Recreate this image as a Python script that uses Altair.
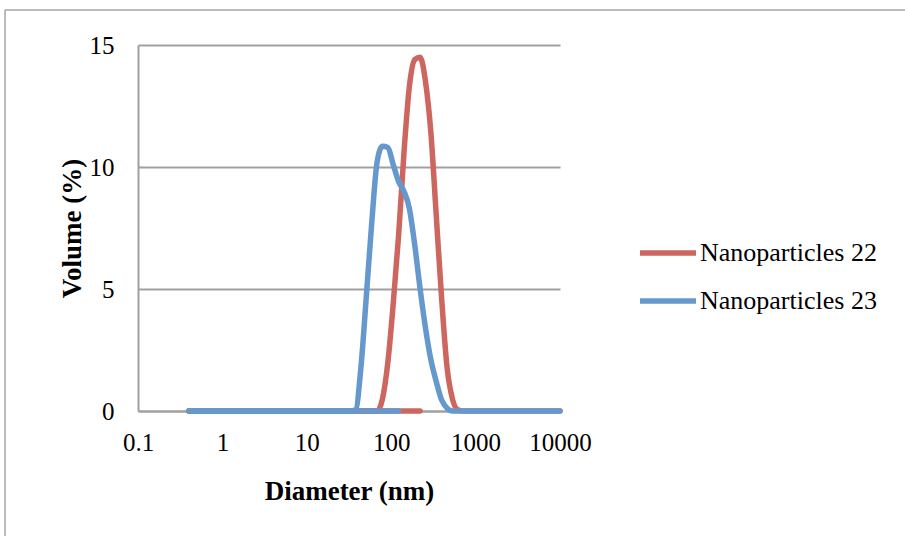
import altair as alt
import pandas as pd

diameters = [0.4, 0.4632, 0.5365, 0.6213, 0.7195, 0.8332, 0.9649, 1.117, 1.294, 1.499,
             1.736, 2.01, 2.328, 2.696, 3.122, 3.615, 4.187, 4.849, 5.615, 6.503,
             7.531, 8.721, 10.1, 11.7, 13.54, 15.69, 18.17, 21.04, 24.36, 28.21,
             32.67, 37.84, 43.82, 50.75, 58.77, 68.06, 78.82, 91.28, 105.7, 122.4,
             141.8, 164.2, 190.1, 220.2, 255.0, 295.3, 342.0, 396.1, 458.7, 531.2,
             615.1, 712.4, 825.0, 955.4, 1106, 1281, 1484, 1718, 1990, 2305,
             2669, 3091, 3580, 4145, 4801, 5560, 6439, 7456, 8635, 10000]

np22 = [0, 0, 0, 0, 0, 0, 0, 0, 0, 0,
        0, 0, 0, 0, 0, 0, 0, 0, 0, 0,
        0, 0, 0, 0, 0, 0, 0, 0, 0, 0,
        0, 0, 0, 0, 0, 0, 0.5, 2.0, 4.4, 7.2,
        10.6, 13.3, 14.4, 14.5, 13.5, 11.4, 8.0, 4.6, 1.8, 0.5,
        0.05, 0, 0, 0, 0, 0, 0, 0, 0, 0,
        0, 0, 0, 0, 0, 0, 0, 0, 0, 0]

np23 = [0, 0, 0, 0, 0, 0, 0, 0, 0, 0,
        0, 0, 0, 0, 0, 0, 0, 0, 0, 0,
        0, 0, 0, 0, 0, 0, 0, 0, 0, 0,
        0, 0.05, 1.8, 4.7, 7.7, 10.2, 10.85, 10.8, 10.1, 9.4,
        9.0, 8.3, 6.8, 5.0, 3.4, 2.1, 1.2, 0.45, 0.12, 0,
        0, 0, 0, 0, 0, 0, 0, 0, 0, 0,
        0, 0, 0, 0, 0, 0, 0, 0, 0, 0]

series_names = ["Nanoparticles 22", "Nanoparticles 23"]
series_colors = ["#CD665F", "#6598CC"]
# extra zero-valued baseline run present in each series (end diameter, nm)
baseline_end = [220.2, 122.4]

x_ticks = [0.1, 1, 10, 100, 1000, 10000]
y_ticks = [0, 5, 10, 15]

rows = []
for name, vals, bend in zip(series_names, [np22, np23], baseline_end):
    for d, v in zip(diameters, vals):
        rows.append({"d": d, "v": v, "series": name, "seg": "main"})
    for d in diameters:
        if d <= bend:
            rows.append({"d": d, "v": 0, "series": name, "seg": "base"})
df = pd.DataFrame(rows)

FONT = "Liberation Serif"

x_enc = alt.X("d:Q", scale=alt.Scale(type="log", domain=[0.1, 10000]),
              axis=alt.Axis(values=x_ticks, format="~g", grid=False, ticks=False,
                            labelFontSize=25, labelPadding=19, labelFont=FONT,
                            labelColor="black", domainColor="#A0A0A0", domainWidth=2,
                            title="Diameter (nm)", titleFont=FONT, titleFontSize=27,
                            titleFontWeight="bold", titleColor="black",
                            titleBaseline="alphabetic", titleY=88, labelFlush=False))
y_enc = alt.Y("v:Q", scale=alt.Scale(domain=[0, 15]),
              axis=alt.Axis(values=y_ticks, grid=True, gridColor="#A0A0A0", gridWidth=2,
                            ticks=False, labelFontSize=25, labelPadding=24, labelFont=FONT,
                            labelColor="black", domainColor="#A0A0A0", domainWidth=2,
                            title="Volume (%)", titleFont=FONT, titleFontSize=27,
                            titleFontWeight="bold", titleColor="black",
                            titleBaseline="alphabetic", titleX=-58, titleAngle=-90))

color_enc = alt.Color("series:N",
                      scale=alt.Scale(domain=series_names, range=series_colors),
                      legend=alt.Legend(title=None, orient="none", legendX=499, legendY=177,
                                        symbolType="stroke", symbolSize=3136,
                                        symbolStrokeWidth=5.5, labelFontSize=26,
                                        labelFont=FONT, labelColor="black", labelLimit=0,
                                        labelOffset=1, rowPadding=4))

layers = []
for name in series_names:
    layers.append(
        alt.Chart(df[df["series"] == name]).mark_line(
            interpolate="monotone", strokeWidth=5.5, strokeCap="round", strokeJoin="round"
        ).encode(x=x_enc, y=y_enc, color=color_enc, detail="seg:N", order="d:Q")
    )

frame_df = pd.DataFrame({"a": [0]})
frame_top = alt.Chart(frame_df).mark_rule(color="#A6A6A6", strokeWidth=1.5, clip=False).encode(
    x=alt.value(-133), x2=alt.value(790), y=alt.value(-35))
frame_left = alt.Chart(frame_df).mark_rule(color="#A6A6A6", strokeWidth=1.5, clip=False).encode(
    x=alt.value(-133), y=alt.value(-35), y2=alt.value(500))

chart = alt.layer(frame_top, frame_left, *layers).properties(
    width=422, height=366,
    autosize=alt.AutoSizeParams(type="none"),
    padding={"left": 138, "top": 45, "right": 345, "bottom": 125},
    background="white",
).configure_view(stroke=None)

chart.save("out.html", embed_options={"renderer": "svg", "actions": False})
